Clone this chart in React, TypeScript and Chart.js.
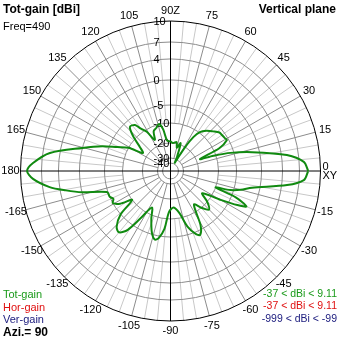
import { useEffect, useRef } from "react";
import { Chart, registerables } from "chart.js";
Chart.register(...registerables);

// Elevation angle (deg, 0 = horizon XY, 90 = zenith Z) and total gain (dBi)
const elevationDeg = [
  0, 3.9, 7.8, 13, 16.8, 19.5, 22, 25, 28.7, 31.2, 35, 38.2, 43, 48.3, 52.9, 56, 58.5,
  61, 62.5, 65, 70, 74.8, 78, 84.9, 90, 96.4, 99.9, 103, 105.2, 108, 113, 117, 121,
  125.3, 127.7, 132.6, 137, 142, 147, 151, 155.8, 160, 165.3, 171.5, 176.7, 180,
  183.3, 187.6, 190.5, 193.5, 198.3, 203, 206, 209, 213, 217, 221, 226, 230, 234,
  238, 243, 248, 253, 257, 260, 264, 268, 275, 282, 287, 292, 295, 299, 305, 310,
  315, 320, 325, 330, 333, 335, 338, 340, 342.3, 345, 348.4, 353.1, 356.1,
];
const totGainDb = [
  8.3, 7.7, 5, -1.3, -5.8, -11, -17.7, -8.2, -5.4, -5.6, -5.8, -5.9, -7, -8.2, -9.8,
  -13, -20, -30, -37, -28, -19, -22, -19, -20, -19, -18.3, -12.5, -10, -10.1, -11,
  -12, -16, -11, -8.7, -7, -6.5, -9, -14, -17, -10, -6.9, -3.5, 0, 5.8, 8.3, 9.11,
  8.3, 5.8, 3, 0, -4.8, -5, -5.6, -5, -6.5, -10, -5, -2.5, -2, -3.5, -8, -13, -9,
  -5.5, -4, -4.5, -7, -13, -15, -12, -7, -4.5, -4, -6, -13, -10, -8, -10, -14, -7.2,
  -3, -1.3, -4, -10, -5.8, -3.5, -1.4, 5, 7.7,
];

const gainTicks = [10, 7, 4, 0, -5, -10, -20, -30, -40];
const gainTickLabels = ["10", "7", "4", "0", "-5", "-10", "-20", "-30", "-40"];
// relative radius of each gain ring (4nec2 log scale)
const gainTickRadius = [1, 0.86, 0.747, 0.607, 0.44, 0.32, 0.187, 0.087, 0.053];

const angleTicksDeg = [
  15, 30, 45, 60, 75, 90, 105, 120, 135, 150, 165, 180,
  -165, -150, -135, -120, -105, -90, -75, -60, -45, -30, -15,
];
const angleTickLabels = [
  "15", "30", "45", "60", "75", "90Z", "105", "120", "135", "150", "165", "180",
  "-165", "-150", "-135", "-120", "-105", "-90", "-75", "-60", "-45", "-30", "-15",
];

const seriesNames = ["Tot-gain", "Hor-gain", "Ver-gain"];
const seriesRanges = ["-37 < dBi < 9.11", "-37 < dBi < 9.11", "-999 < dBi < -99"];
const seriesColors = ["#1a9a1a", "#e01010", "#202080"];
const titleText = "Tot-gain [dBi]";
const freqText = "Freq=490";
const planeText = "Vertical plane";
const aziText = "Azi.= 90";

const FONT = "'Liberation Sans', Arial, sans-serif";

function gainToRadius(db: number): number {
  const n = gainTicks.length;
  let i = 0;
  if (db >= gainTicks[0]) i = 0;
  else if (db <= gainTicks[n - 1]) i = n - 2;
  else {
    for (let k = 0; k < n - 1; k++) {
      if (db <= gainTicks[k] && db >= gainTicks[k + 1]) {
        i = k;
        break;
      }
    }
  }
  const t = (gainTicks[i] - db) / (gainTicks[i] - gainTicks[i + 1]);
  const l0 = Math.log(gainTickRadius[i]);
  const l1 = Math.log(gainTickRadius[i + 1]);
  return Math.exp(l0 + (l1 - l0) * t);
}

const polarGrid = {
  id: "polarGrid",
  beforeDatasetsDraw(chart: any) {
    const { ctx } = chart;
    const xs = chart.scales.x;
    const ys = chart.scales.y;
    const cx = xs.getPixelForValue(0);
    const cy = ys.getPixelForValue(0);
    const R = xs.getPixelForValue(1) - cx;
    ctx.save();
    ctx.lineWidth = 1;
    for (let a = 0; a < 360; a += 5) {
      if (a % 15 === 0) continue;
      const th = (a * Math.PI) / 180;
      const r0 = gainToRadius(-10) * R;
      ctx.strokeStyle = "#c8c8c8";
      ctx.beginPath();
      ctx.moveTo(cx + r0 * Math.cos(th), cy - r0 * Math.sin(th));
      ctx.lineTo(cx + R * Math.cos(th), cy - R * Math.sin(th));
      ctx.stroke();
    }
    for (let a = 0; a < 360; a += 15) {
      if (a % 90 === 0) continue;
      const th = (a * Math.PI) / 180;
      const r0 = gainToRadius(-30) * R;
      ctx.strokeStyle = "#8c8c8c";
      ctx.beginPath();
      ctx.moveTo(cx + r0 * Math.cos(th), cy - r0 * Math.sin(th));
      ctx.lineTo(cx + R * Math.cos(th), cy - R * Math.sin(th));
      ctx.stroke();
    }
    gainTicks.forEach((g, i) => {
      const r = gainToRadius(g) * R;
      ctx.strokeStyle = i === 0 ? "#000000" : "#8c8c8c";
      ctx.beginPath();
      ctx.arc(cx, cy, r, 0, Math.PI * 2);
      ctx.stroke();
    });
    ctx.strokeStyle = "#000000";
    ctx.beginPath();
    ctx.moveTo(cx - R, cy);
    ctx.lineTo(cx + R, cy);
    ctx.moveTo(cx, cy - R);
    ctx.lineTo(cx, cy + R);
    ctx.stroke();

    ctx.fillStyle = "#000000";
    ctx.font = `11px ${FONT}`;
    ctx.textAlign = "left";
    ctx.textBaseline = "middle";
    gainTicks.forEach((g, i) => {
      const r = gainToRadius(g) * R;
      ctx.fillText(gainTickLabels[i], cx - 17, cy - r + 1);
    });

    ctx.textAlign = "center";
    angleTicksDeg.forEach((a, i) => {
      const th = (a * Math.PI) / 180;
      const rr = R + 10;
      ctx.fillText(angleTickLabels[i], cx + rr * Math.cos(th), cy - rr * Math.sin(th));
    });
    ctx.textAlign = "left";
    ctx.fillText("0", cx + R + 2, cy - 4);
    ctx.fillText("XY", cx + R + 2, cy + 5);
    ctx.restore();
  },
  afterDraw(chart: any) {
    const { ctx } = chart;
    const W = chart.width;
    ctx.save();
    ctx.textBaseline = "middle";
    ctx.textAlign = "left";
    ctx.fillStyle = "#000000";
    ctx.font = `bold 12px ${FONT}`;
    ctx.fillText(titleText, 3, 10);
    ctx.textAlign = "right";
    ctx.fillText(planeText, W - 3, 10);
    ctx.textAlign = "left";
    ctx.font = `11px ${FONT}`;
    ctx.fillText(freqText, 3, 27);
    seriesNames.forEach((s, i) => {
      ctx.fillStyle = seriesColors[i];
      ctx.textAlign = "left";
      ctx.font = `11px ${FONT}`;
      ctx.fillText(s, 3, 295 + i * 12.5);
      ctx.textAlign = "right";
      ctx.font = `10.5px ${FONT}`;
      ctx.fillText(seriesRanges[i], W - 2, 294 + i * 12.5);
    });
    ctx.fillStyle = "#000000";
    ctx.textAlign = "left";
    ctx.font = `bold 12px ${FONT}`;
    ctx.fillText(aziText, 3, 333);
    ctx.restore();
  },
};

export default function App() {
  const ref = useRef<HTMLCanvasElement | null>(null);
  useEffect(() => {
    if (!ref.current) return;
    const pts = elevationDeg.map((a, i) => {
      const r = gainToRadius(totGainDb[i]);
      const th = (a * Math.PI) / 180;
      return { x: r * Math.cos(th), y: r * Math.sin(th) };
    });
    pts.push(pts[0]);
    const chart = new Chart(ref.current, {
      type: "scatter",
      data: {
        datasets: [
          {
            label: seriesNames[0],
            data: pts,
            showLine: true,
            borderColor: "#108a10",
            borderWidth: 2,
            pointRadius: 0,
            tension: 0.3,
            fill: false,
          },
        ],
      },
      options: {
        animation: false,
        responsive: false,
        devicePixelRatio: 1,
        layout: { padding: 0 },
        scales: {
          x: { type: "linear", min: -170.5 / 150, max: 168.5 / 150, display: false },
          y: { type: "linear", min: -168 / 150, max: 171 / 150, display: false },
        },
        plugins: { legend: { display: false }, tooltip: { enabled: false } },
      },
      plugins: [polarGrid],
    });
    return () => chart.destroy();
  }, []);
  return (
    <div style={{ position: "fixed", left: 0, top: 0, width: 339, height: 339, background: "#fff" }}>
      <canvas ref={ref} width={339} height={339} />
    </div>
  );
}
